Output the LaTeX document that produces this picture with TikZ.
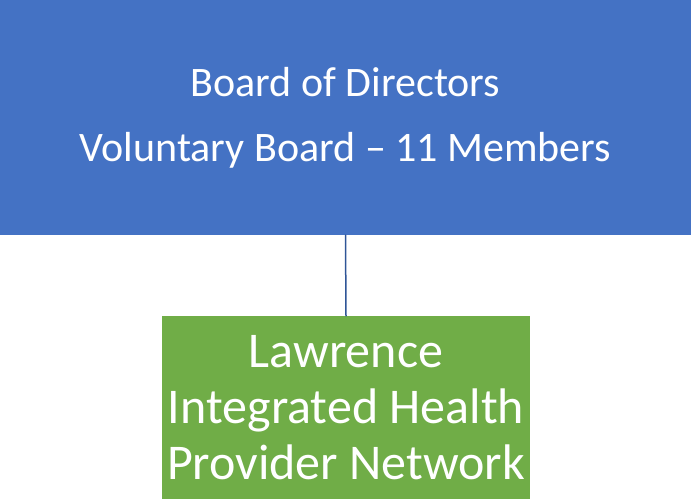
\documentclass[tikz,border=0pt]{standalone}
\usepackage{fontspec}
\setmainfont{Carlito}
\usetikzlibrary{positioning}

\definecolor{boardblue}{RGB}{68,114,196}
\definecolor{networkgreen}{RGB}{112,173,71}
\definecolor{linkblue}{RGB}{47,85,151}

\begin{document}
\begin{tikzpicture}[line cap=round, line join=round, x=1pt, y=1pt,
	boardbox/.style={rectangle, fill=boardblue, text=white, align=center, inner sep=0pt,
		minimum width=691pt, minimum height=235pt, font=\fontsize{42}{65}\selectfont},
	networkbox/.style={rectangle, fill=networkgreen, text=white, align=center, inner sep=0pt,
		minimum width=368pt, minimum height=183pt, font=\fontsize{50}{56}\selectfont}]
		
		% Marco de la figura
		\useasboundingbox (0,0) rectangle (691,-499);
		
		% Junta directiva (caja azul)
		\node[boardbox] (board) at (345.5,-117.5) {Board of Directors\\Voluntary Board -- 11 Members};
		
		% Red de proveedores (caja verde)
		\node[networkbox] (network) at (346,-407.5) {Lawrence\\Integrated Health\\Provider Network};
		
		% Conector
		\draw[color=linkblue, line width=1.5pt] (board.south) -- (network.north);
		
	\end{tikzpicture}
\end{document}
